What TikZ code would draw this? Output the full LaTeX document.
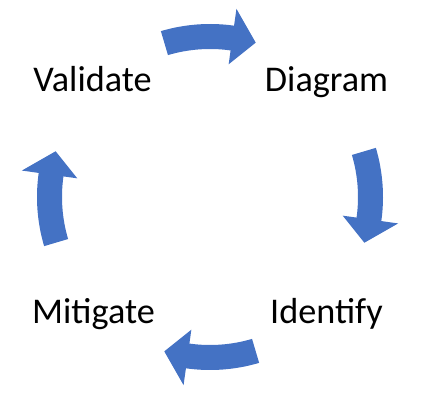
\documentclass[tikz,border=0pt]{standalone}
\usepackage{fontspec}
\setmainfont{Carlito}
\definecolor{cycleblue}{HTML}{4472C4}

\begin{document}
\begin{tikzpicture}[x=1cm,y=1cm]
\tikzset{
  steplabel/.style={anchor=base,inner sep=0pt,font=\fontsize{20.6}{25}\selectfont},
  cyclearrow/.style={fill=cycleblue,draw=none}
}
\useasboundingbox (-4.20,-4.04) rectangle (4.30,3.94);
\node[steplabel] (s_validate) at (-2.35,2.10) {Validate};
\node[steplabel] (s_diagram) at (2.33,2.10) {Diagram};
\node[steplabel] (s_identify) at (2.33,-2.52) {Identify};
\node[steplabel] (s_mitigate) at (-2.33,-2.52) {Mitigate};
% curved arrows between the steps, clockwise
\foreach \ang in {90,0,-90,180} {
  \fill[cyclearrow] ({\ang+16.5}:3.46)
    arc[start angle=\ang+16.5,end angle=\ang-8,radius=3.46]
    -- ({\ang-8}:3.80) -- ({\ang-16.5}:3.22) -- ({\ang-8}:2.68)
    -- ({\ang-8}:2.96)
    arc[start angle=\ang-8,end angle=\ang+16.5,radius=2.96] -- cycle;
}
\end{tikzpicture}
\end{document}
